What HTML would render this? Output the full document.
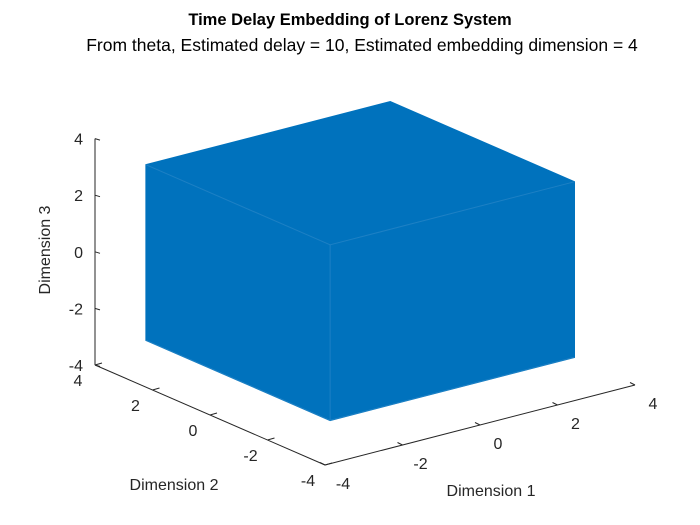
<!DOCTYPE html>
<html><head><meta charset="utf-8">
<style>
body{margin:0;background:#fff;}
svg{display:block;font-family:"Liberation Sans",Arial,sans-serif;}
</style></head>
<body>
<svg id="chart" width="700" height="525" viewBox="0 0 700 525">
<rect width="700" height="525" fill="#fff"/>
<text x="350" y="25" text-anchor="middle" font-size="16.5" font-weight="bold" fill="#000">Time Delay Embedding of Lorenz System</text>
<text x="362" y="51" text-anchor="middle" font-size="17.5" fill="#000">From theta, Estimated delay = 10, Estimated embedding dimension = 4</text>
<g id="axes"></g>
<g id="marks"></g>
<text x="50" y="250" text-anchor="middle" font-size="16" fill="#262626" transform="rotate(-90 50 250)">Dimension 3</text>
<text x="174" y="490" text-anchor="middle" font-size="16" fill="#262626">Dimension 2</text>
<text x="491" y="496" text-anchor="middle" font-size="16" fill="#262626">Dimension 1</text>
</svg>
<script>
const ticks=[-4,-2,0,2,4];
const tickLabels=["-4","-2","0","2","4"];
// extents of the embedded trajectory (dim1, dim2, dim3)
const dim1Range=[-3.2,3.1];
const dim2Range=[-3.1,3.3];
const dim3Range=[-3.1,3.1];

const NS="http://www.w3.org/2000/svg";
const P0=[325,465], D1=[38.75,-10], D2=[-28.75,-12.5], D3=[0,-28.3];
function proj(a,b,c){return [P0[0]+(a+4)*D1[0]+(b+4)*D2[0]+(c+4)*D3[0], P0[1]+(a+4)*D1[1]+(b+4)*D2[1]+(c+4)*D3[1]];}
function mk(tag,attrs,parent){const e=document.createElementNS(NS,tag);for(const k in attrs)e.setAttribute(k,attrs[k]);parent.appendChild(e);return e;}

const ax=document.getElementById('axes');
const col="#262626";
let a=proj(-4,4,-4),b=proj(-4,4,4);
let l=mk('line',{x1:a[0],y1:a[1],x2:b[0],y2:b[1],stroke:col},ax);


a=proj(-4,4,-4);b=proj(-4,-4,-4);
l=mk('line',{x1:a[0],y1:a[1],x2:b[0],y2:b[1],stroke:col},ax);


a=proj(-4,-4,-4);b=proj(4,-4,-4);
l=mk('line',{x1:a[0],y1:a[1],x2:b[0],y2:b[1],stroke:col},ax);



ticks.forEach((t,i)=>{
  let p=proj(-4,4,t);
  let tk=mk('line',{x1:p[0],y1:p[1],x2:p[0]+5,y2:p[1]+1.5,stroke:col},ax);
  
  
  let tx=mk('text',{x:p[0]-12,y:p[1]+6,'text-anchor':'end','font-size':16,fill:col},ax);
  tx.textContent=tickLabels[i];
  
  
  p=proj(-4,t,-4);
  tk=mk('line',{x1:p[0],y1:p[1],x2:p[0]+7,y2:p[1]-2,stroke:col},ax);
  
  
  tx=mk('text',{x:p[0]-17,y:p[1]+21,'text-anchor':'middle','font-size':16,fill:col},ax);
  tx.textContent=tickLabels[i];
  
  
  p=proj(t,-4,-4);
  tk=mk('line',{x1:p[0],y1:p[1],x2:p[0]-5,y2:p[1]-2.5,stroke:col},ax);
  
  
  tx=mk('text',{x:p[0]+18,y:p[1]+24,'text-anchor':'middle','font-size':16,fill:col},ax);
  tx.textContent=tickLabels[i];
  
  
});

const mg=document.getElementById('marks');
const [x0,x1]=dim1Range,[y0,y1]=dim2Range,[z0,z1]=dim3Range;
const hull=[proj(x0,y1,z0),proj(x0,y1,z1),proj(x1,y1,z1),proj(x1,y0,z1),proj(x1,y0,z0),proj(x0,y0,z0)];
const poly=mk('polygon',{points:hull.map(p=>p.join(',')).join(' '),fill:'#0072BD',stroke:'#0072BD','stroke-width':1.5},mg);


const streaks=[[[x0,y1,z0],[x0,y0,z0]],[[x0,y0,z0],[x1,y0,z0]],[[x0,y0,z0],[x0,y0,z1]],[[x0,y0,z1],[x1,y0,z1]],[[x0,y0,z1],[x0,y1,z1]]];
streaks.forEach(s=>{
  const p=proj(...s[0]),q=proj(...s[1]);
  const e=mk('line',{x1:p[0],y1:p[1],x2:q[0],y2:q[1],stroke:'#3a8fcc','stroke-width':1,opacity:0.5},mg);
  
  
});
</script>
</body></html>
